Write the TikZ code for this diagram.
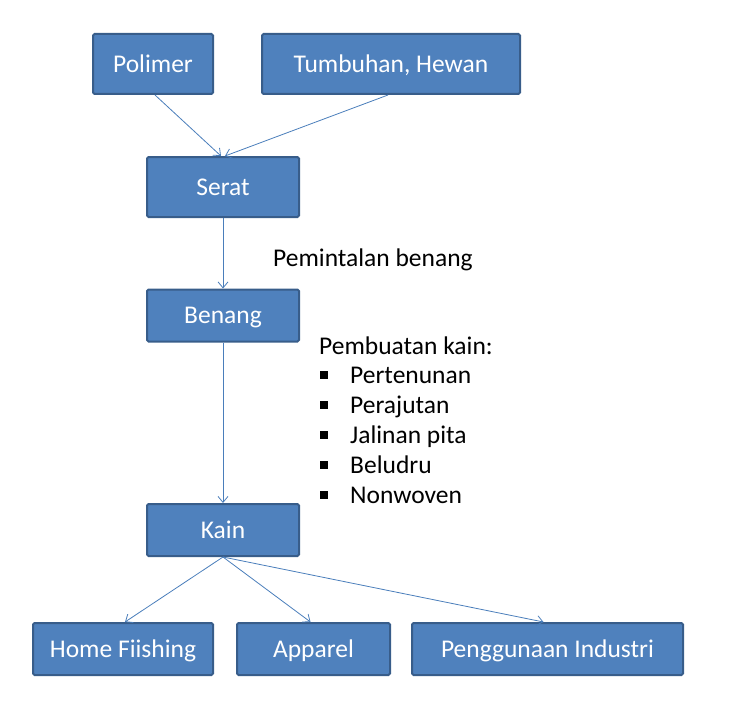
\documentclass[tikz,border=0pt]{standalone}
\usepackage{fontspec}
\setmainfont{Carlito}
\usetikzlibrary{arrows.meta}
\definecolor{boxfill}{HTML}{4F81BD}
\definecolor{boxline}{HTML}{385D8A}
\definecolor{arrowline}{HTML}{4A7EBB}
\begin{document}
\begin{tikzpicture}[x=1pt, y=-1pt,
    every node/.style={font=\fontsize{25.5}{30}\selectfont, inner sep=0pt},
    box/.style={draw=boxline, line width=2pt, fill=boxfill, text=white,
        rounded corners=1.5pt, minimum height=52pt, text height=16.4pt, text depth=0pt},
    flow/.style={draw=arrowline, line width=0.8pt,
        -{Straight Barb[length=6pt,width=10pt]}},
    bulletsq/.style={fill=black, minimum size=8pt}]
    \useasboundingbox (0,0) rectangle (737,709);

    % Sumber serat
    \node[box, minimum width=120pt, minimum height=60pt] (polimer) at (153,64) {Polimer};
    \node[box, minimum width=258pt, minimum height=60pt] (tumbuhan) at (391,64) {Tumbuhan, Hewan};

    % Alur utama
    \node[box, minimum width=152pt, minimum height=60pt] (serat) at (223,187) {Serat};
    \node[box, minimum width=152pt] (benang) at (223,315.5) {Benang};
    \node[box, minimum width=152pt] (kain) at (223,530) {Kain};

    % Penggunaan
    \node[box, minimum width=180pt] (home) at (123,649) {Home Fiishing};
    \node[box, minimum width=153pt] (apparel) at (313.5,649) {Apparel};
    \node[box, minimum width=271pt] (industri) at (547.5,649) {Penggunaan Industri};

    % Keterangan proses
    \node[anchor=base west] (pemintalan) at (273,266.5) {Pemintalan benang};
    \node[anchor=base west] (pembuatan) at (319,354) {Pembuatan kain:};
    \foreach \teks [count=\i] in {Pertenunan, Perajutan, Jalinan pita, Beludru, Nonwoven} {
        \node[bulletsq] (blt\i) at (324,345+30*\i) {};
        \node[anchor=base west] (cara\i) at (350,353.5+30*\i) {\teks};
    }

    % Panah
    \draw[flow] ([xshift=2pt]polimer.south) -- ([xshift=-2pt]serat.north);
    \draw[flow] ([xshift=-3pt]tumbuhan.south) -- ([xshift=2pt]serat.north);
    \draw[flow] (serat) -- (benang);
    \draw[flow] (benang) -- (kain);
    \draw[flow] (kain.south) -- ([xshift=2pt]home.north);
    \draw[flow] (kain.south) -- ([xshift=-3pt]apparel.north);
    \draw[flow] (kain.south) -- ([xshift=-4pt]industri.north);
\end{tikzpicture}
\end{document}
